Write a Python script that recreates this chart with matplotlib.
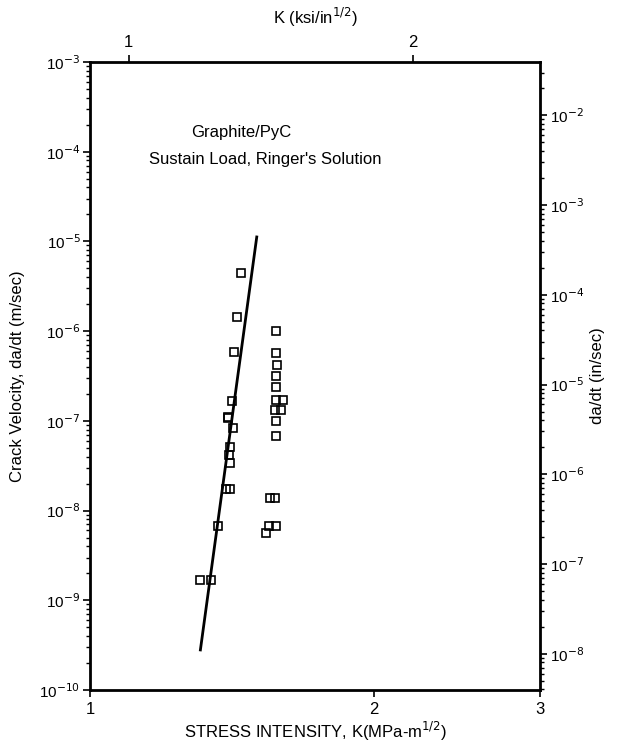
import matplotlib
matplotlib.use("Agg")
import matplotlib.pyplot as plt
from matplotlib.ticker import FixedLocator, FixedFormatter, LogLocator, NullFormatter, NullLocator

plt.rcParams['font.family'] = ['Liberation Sans', 'DejaVu Sans']

# donnees
k_gauche = [1.444, 1.430, 1.421, 1.414, 1.399, 1.400, 1.416, 1.406, 1.404, 1.406, 1.395, 1.407, 1.367, 1.309, 1.342]
v_gauche = [4.4e-6, 1.43e-6, 5.8e-7, 1.66e-7, 1.07e-7, 1.1e-7, 8.25e-8, 5.1e-8, 4.2e-8, 3.4e-8, 1.72e-8, 1.72e-8, 6.7e-9, 1.68e-9, 1.68e-9]

k_droite = [1.576, 1.576, 1.578, 1.576, 1.576, 1.576, 1.602, 1.569, 1.595, 1.576, 1.576, 1.550, 1.569, 1.547, 1.573, 1.538]
v_droite = [1.01e-6, 5.74e-7, 4.2e-7, 3.2e-7, 2.36e-7, 1.71e-7, 1.71e-7, 1.32e-7, 1.32e-7, 1.0e-7, 6.77e-8, 1.37e-8, 1.37e-8, 6.7e-9, 6.7e-9, 5.65e-9]

# droite de regression
k_fit = [1.309, 1.502]
v_fit = [2.8e-10, 1.12e-5]

ticks_x = [1, 2, 3]
ticks_ksi = [1, 2]
ticks_y = [1e-10, 1e-9, 1e-8, 1e-7, 1e-6, 1e-5, 1e-4, 1e-3]
ticks_in = [1e-8, 1e-7, 1e-6, 1e-5, 1e-4, 1e-3, 1e-2]

MPA_PAR_KSI = 1.0988
M_PAR_IN = 0.0254

fig = plt.figure(figsize=(6.21, 7.46), dpi=100, facecolor='white')
ax = fig.add_axes([0.145, 0.075, 0.725, 0.842])

ax.plot(k_fit, v_fit, color='black', linewidth=2)
ax.plot(k_gauche, v_gauche, linestyle='none', marker='s', markersize=6,
        markerfacecolor='none', markeredgecolor='black', markeredgewidth=1.2)
ax.plot(k_droite, v_droite, linestyle='none', marker='s', markersize=6,
        markerfacecolor='none', markeredgecolor='black', markeredgewidth=1.2)

ax.set_xscale('log')
ax.set_yscale('log')
ax.set_xlim(1, 3)
ax.set_ylim(1e-10, 1e-3)

ax.xaxis.set_major_locator(FixedLocator(ticks_x))
ax.xaxis.set_major_formatter(FixedFormatter([str(t) for t in ticks_x]))
ax.xaxis.set_minor_locator(NullLocator())
ax.yaxis.set_major_locator(FixedLocator(ticks_y))
ax.yaxis.set_major_formatter(FixedFormatter(['10$^{%d}$' % e for e in range(-10, -2)]))
ax.yaxis.set_minor_locator(LogLocator(base=10, subs=range(2, 10)))
ax.yaxis.set_minor_formatter(NullFormatter())

ax.tick_params(axis='x', which='major', labelsize=12, width=1.2, length=5)
ax.tick_params(axis='y', which='major', labelsize=11, width=1.2, length=5, pad=2)
ax.tick_params(axis='y', which='minor', width=1, length=3)

for s in ax.spines.values():
    s.set_linewidth(2)

ax.set_xlabel('STRESS INTENSITY, K(MPa-m$^{1/2}$)', fontsize=12, labelpad=2)
ax.set_ylabel('Crack Velocity, da/dt (m/sec)', fontsize=12, labelpad=10)

# axe du haut en ksi/in^1/2
haut = ax.secondary_xaxis('top', functions=(lambda k: k / MPA_PAR_KSI, lambda k: k * MPA_PAR_KSI))
haut.xaxis.set_major_locator(FixedLocator(ticks_ksi))
haut.xaxis.set_major_formatter(FixedFormatter([str(t) for t in ticks_ksi]))
haut.xaxis.set_minor_locator(NullLocator())
haut.tick_params(labelsize=12, width=1.2, length=5)
haut.set_xlabel('K (ksi/in$^{1/2}$)', fontsize=12, labelpad=8)

# axe de droite en in/sec
droite = ax.secondary_yaxis('right', functions=(lambda v: v / M_PAR_IN, lambda v: v * M_PAR_IN))
droite.yaxis.set_major_locator(FixedLocator(ticks_in))
droite.yaxis.set_major_formatter(FixedFormatter(['10$^{%d}$' % e for e in range(-8, -1)]))
droite.yaxis.set_minor_locator(LogLocator(base=10, subs=range(2, 10)))
droite.yaxis.set_minor_formatter(NullFormatter())
droite.tick_params(which='major', labelsize=11, width=1.2, length=5, pad=2)
droite.tick_params(which='minor', width=1, length=3)
droite.set_ylabel('da/dt (in/sec)', fontsize=12, labelpad=4)

ax.text(0.335, 0.887, 'Graphite/PyC', transform=ax.transAxes, ha='center', va='center', fontsize=12)
ax.text(0.39, 0.845, "Sustain Load, Ringer's Solution", transform=ax.transAxes, ha='center', va='center', fontsize=12)

fig.savefig('out.png', dpi=100)
